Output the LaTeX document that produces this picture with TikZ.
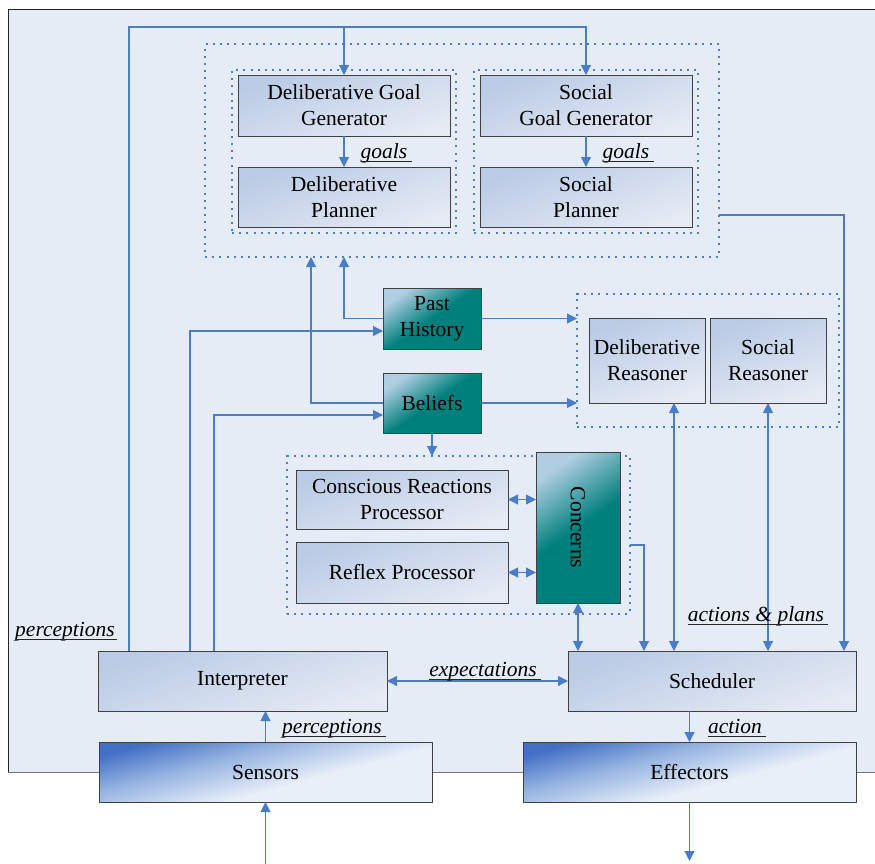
\documentclass[tikz,border=0pt]{standalone}
\usepackage{fontspec}
\setmainfont{Liberation Serif}
\usetikzlibrary{arrows.meta,calc}
\definecolor{cline}{RGB}{74,125,197}
\definecolor{panelc}{RGB}{230,236,246}
\definecolor{lbA}{RGB}{186,203,229}
\definecolor{lbB}{RGB}{229,234,244}
\definecolor{tlA}{RGB}{176,206,226}
\definecolor{tlB}{RGB}{0,128,124}
\definecolor{snA}{RGB}{66,112,196}
\definecolor{snM}{RGB}{150,180,225}
\definecolor{snB}{RGB}{233,239,249}
\pgfdeclareverticalshading{lightsh}{100bp}{color(0bp)=(lbB); color(25bp)=(lbB); color(75bp)=(lbA); color(100bp)=(lbA)}
\pgfdeclareverticalshading{tealsh}{100bp}{color(0bp)=(tlB); color(25bp)=(tlB); color(50bp)=(tlB); color(75bp)=(tlA); color(100bp)=(tlA)}
\pgfdeclareverticalshading{sensh}{100bp}{color(0bp)=(snB); color(25bp)=(snB); color(42bp)=(snB); color(60bp)=(snM); color(75bp)=(snA); color(100bp)=(snA)}
\newcommand{\fsz}{\fontsize{21.5}{26}\selectfont}
\tikzset{
  boxbase/.style={draw=black!75, line width=0.8pt, shade, inner sep=0pt, outer sep=0pt, align=center, font=\fsz},
  lbox/.style={boxbase, shading=lightsh, shading angle=20},
  tbox/.style={boxbase, shading=tealsh, shading angle=35},
  sbox/.style={boxbase, shading=sensh, shading angle=15},
  grp/.style={draw=cline, line width=2pt, dash pattern=on 2pt off 5.2pt, inner sep=0pt, outer sep=0pt},
  conn/.style={draw=cline, line width=1.1pt},
  arr/.style={conn, -{Triangle[length=10pt,width=10pt]}},
  darr/.style={conn, {Triangle[length=10pt,width=10pt]}-{Triangle[length=10pt,width=10pt]}},
  lab/.style={font=\fsz\itshape, inner sep=0pt, anchor=base},
  uline/.style={draw=black!85, line width=0.8pt},
}
\begin{document}
\begin{tikzpicture}[x=1pt,y=-1pt]
\useasboundingbox (0,0) rectangle (875,863);
% panel
\fill[panelc] (8,9) rectangle (876,772);
\draw[black!85, line width=1pt] (876,9) -- (8,9) -- (8,772);
\draw[black!55, line width=1pt] (8,772) -- (876,772);

% groups
\node[grp, minimum width=514, minimum height=213] (gtop) at (462,150.5) {};
\node[grp, minimum width=224, minimum height=163] (gdel) at (344,151.5) {};
\node[grp, minimum width=224, minimum height=163] (gsoc) at (586,151.5) {};
\node[grp, minimum width=262, minimum height=133] (greas) at (708,360.5) {};
\node[grp, minimum width=343, minimum height=158] (gconc) at (458.5,535) {};

% boxes
\node[lbox, minimum width=212, minimum height=61] (dgg) at (344,105.5) {Deliberative Goal\\Generator};
\node[lbox, minimum width=212, minimum height=60] (dp) at (344,197) {Deliberative\\Planner};
\node[lbox, minimum width=212, minimum height=61] (sgg) at (586,105.5) {Social\\Goal Generator};
\node[lbox, minimum width=212, minimum height=60] (sp) at (586,197) {Social\\Planner};
\node[tbox, minimum width=98, minimum height=61] (ph) at (432,318.5) {Past\\History};
\node[tbox, minimum width=98, minimum height=60] (bel) at (432,403) {Beliefs};
\node[lbox, minimum width=116, minimum height=85] (dr) at (647,360.5) {Deliberative\\Reasoner};
\node[lbox, minimum width=116, minimum height=85] (sr) at (768,360.5) {Social\\Reasoner};
\node[lbox, minimum width=212, minimum height=59] (crp) at (402,499.5) {Conscious Reactions\\Processor};
\node[lbox, minimum width=212, minimum height=61] (rp) at (402,572.5) {Reflex Processor};
\node[tbox, minimum width=84, minimum height=151] (conc) at (578,527.5) {\rotatebox{-90}{Concerns}};
\node[lbox, minimum width=289, minimum height=60] (interp) at (242.5,681) {Interpreter};
\node[lbox, minimum width=288, minimum height=60] (sched) at (712,681) {Scheduler};
\node[sbox, minimum width=333, minimum height=60] (sens) at (265.5,772) {Sensors};
\node[sbox, minimum width=333, minimum height=60] (eff) at (689.5,772) {Effectors};

% connectors
\coordinate (ptop) at (129,27);
\draw[arr] ($(interp.north west)+(31,0)$) |- (ptop) -| (sgg.north);
\draw[arr] (ptop -| dgg.north) -- (dgg.north);
\draw[arr] (dgg.south) -- (dp.north);
\draw[arr] (sgg.south) -- (sp.north);
\draw[arr] (gtop.east |- 0,215) -| ($(sched.north east)+(-12,0)$);
\draw[arr] (ph.west) -| (dgg.south |- gtop.south);
\draw[arr] (bel.west) -| ($(gtop.south west)+(106,0)$);
\draw[arr] ($(interp.north west)+(92,0)$) |- ($(ph.west)+(0,12.5)$);
\draw[arr] ($(interp.north west)+(116,0)$) |- ($(bel.west)+(0,12)$);
\draw[arr] (ph.east) -- (ph.east -| greas.west);
\draw[arr] (bel.east) -- (bel.east -| greas.west);
\draw[arr] (bel.south) -- (bel.south |- gconc.north);
\draw[darr] (crp.east) -- (crp.east -| conc.west);
\draw[darr] (rp.east) -- (rp.east -| conc.west);
\draw[darr] (conc.south) -- (conc.south |- sched.north);
\draw[arr] (gconc.east |- 0,545) -| ($(sched.north west)+(76,0)$);
\coordinate (drx) at ($(dr.south)+(27,0)$);
\draw[darr] (drx) -- (drx |- sched.north);
\draw[darr] (sr.south) -- (sr.south |- sched.north);
\draw[darr] (interp.east) -- (sched.west);
\draw[arr] (sens.north) -- (sens.north |- interp.south);
\coordinate (sin) at (265.5,864);
\draw[arr] (sin) -- (sens.south);
\draw[arr] (eff.north |- sched.south) -- (eff.north);
\coordinate (eout) at (689.5,861);
\draw[arr] (eff.south) -- (eout);

% labels
\node[lab] (l1) at (384,158) {goals};
\draw[uline] ($(l1.base west)+(0,3)$) -- ($(l1.base east)+(4,3)$);
\node[lab] (l2) at (626,158) {goals};
\draw[uline] ($(l2.base west)+(0,3)$) -- ($(l2.base east)+(4,3)$);
\node[lab] (l3) at (65,636) {perceptions};
\draw[uline] ($(l3.base west)+(0,3)$) -- ($(l3.base east)+(2,3)$);
\node[lab] (l4) at (332,733) {perceptions};
\draw[uline] ($(l4.base west)+(0,3)$) -- ($(l4.base east)+(4,3)$);
\node[lab] (l5) at (483,676) {expectations};
\draw[uline] ($(l5.base west)+(0,3)$) -- ($(l5.base east)+(4,3)$);
\node[lab] (l6) at (756,621) {actions \& plans};
\draw[uline] ($(l6.base west)+(0,3)$) -- ($(l6.base east)+(4,3)$);
\node[lab] (l7) at (735,733) {action};
\draw[uline] ($(l7.base west)+(0,3)$) -- ($(l7.base east)+(4,3)$);
\end{tikzpicture}
\end{document}
